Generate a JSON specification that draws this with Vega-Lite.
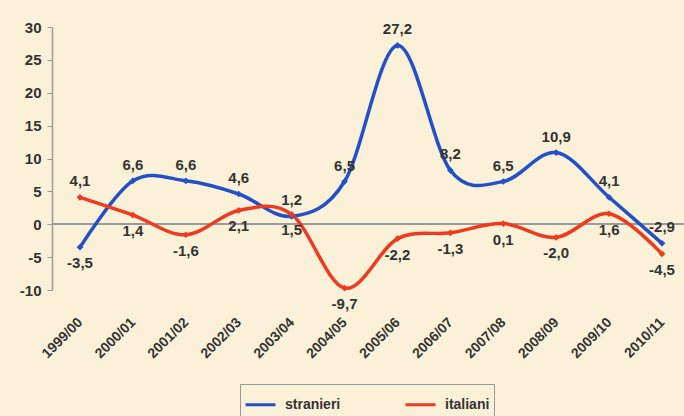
{
  "$schema": "https://vega.github.io/schema/vega-lite/v6.json",
  "width": 632,
  "height": 263,
  "autosize": "none",
  "padding": {"left": 52, "top": 27, "right": 0, "bottom": 126},
  "background": "#fbf1d8",
  "config": {
    "view": {"stroke": null},
    "font": "Liberation Sans",
    "locale": {"number": {"decimal": ",", "thousands": ".", "grouping": [3], "currency": ["", " €"], "minus": "-"}},
    "axis": {"labelFont": "Liberation Sans", "labelFontWeight": "bold", "labelColor": "#333333", "grid": false, "domainColor": "#9a9a9a", "tickColor": "#9a9a9a", "title": null},
    "axisY": {"values": [-10, -5, 0, 5, 10, 15, 20, 25, 30], "labelFontSize": 15, "tickSize": 5, "domainWidth": 1.5, "labelPadding": 6}
  },
  "data": {
    "values": [
      {"anno": "1999/00", "serie": "stranieri", "valore": -3.5},
      {"anno": "2000/01", "serie": "stranieri", "valore": 6.6},
      {"anno": "2001/02", "serie": "stranieri", "valore": 6.6},
      {"anno": "2002/03", "serie": "stranieri", "valore": 4.6},
      {"anno": "2003/04", "serie": "stranieri", "valore": 1.2},
      {"anno": "2004/05", "serie": "stranieri", "valore": 6.5},
      {"anno": "2005/06", "serie": "stranieri", "valore": 27.2},
      {"anno": "2006/07", "serie": "stranieri", "valore": 8.2},
      {"anno": "2007/08", "serie": "stranieri", "valore": 6.5},
      {"anno": "2008/09", "serie": "stranieri", "valore": 10.9},
      {"anno": "2009/10", "serie": "stranieri", "valore": 4.1},
      {"anno": "2010/11", "serie": "stranieri", "valore": -2.9},
      {"anno": "1999/00", "serie": "italiani", "valore": 4.1},
      {"anno": "2000/01", "serie": "italiani", "valore": 1.4},
      {"anno": "2001/02", "serie": "italiani", "valore": -1.6},
      {"anno": "2002/03", "serie": "italiani", "valore": 2.1},
      {"anno": "2003/04", "serie": "italiani", "valore": 1.5},
      {"anno": "2004/05", "serie": "italiani", "valore": -9.7},
      {"anno": "2005/06", "serie": "italiani", "valore": -2.2},
      {"anno": "2006/07", "serie": "italiani", "valore": -1.3},
      {"anno": "2007/08", "serie": "italiani", "valore": 0.1},
      {"anno": "2008/09", "serie": "italiani", "valore": -2.0},
      {"anno": "2009/10", "serie": "italiani", "valore": 1.6},
      {"anno": "2010/11", "serie": "italiani", "valore": -4.5}
    ]
  },
  "layer": [
    {
      "mark": {"type": "rule", "color": "#9a9a9a", "strokeWidth": 1.5},
      "encoding": {"y": {"datum": 0, "type": "quantitative", "scale": {"domain": [-10, 30], "nice": false}}}
    },
    {
      "mark": {"type": "line", "interpolate": "cardinal", "strokeWidth": 3.5},
      "encoding": {
        "x": {"field": "anno", "type": "ordinal", "scale": {"type": "point", "range": [28, 610], "padding": 0},
          "axis": {"orient": "bottom", "domain": false, "ticks": false, "labelAngle": -45, "labelAlign": "right", "labelBaseline": "middle", "labelFontSize": 14, "labelPadding": 30}},
        "y": {"field": "valore", "type": "quantitative", "scale": {"domain": [-10, 30], "nice": false}},
        "color": {"field": "serie", "type": "nominal", "sort": ["stranieri", "italiani"],
          "scale": {"domain": ["stranieri", "italiani"], "range": ["#2350c8", "#ef3a20"]},
          "legend": {"orient": "none", "legendX": 188, "legendY": 357, "direction": "horizontal", "title": null,
            "symbolType": "stroke", "symbolSize": 900, "symbolStrokeWidth": 3, "labelFontSize": 14, "labelFontWeight": "bold", "labelColor": "#333333",
            "columnPadding": 58, "labelOffset": 8, "padding": 4, "strokeColor": "#999999", "fillColor": "#fbf1d8"}}
      }
    },
    {
      "mark": {"type": "point", "shape": "diamond", "filled": true, "size": 45, "opacity": 1},
      "encoding": {
        "x": {"field": "anno", "type": "ordinal"},
        "y": {"field": "valore", "type": "quantitative"},
        "color": {"field": "serie", "type": "nominal"}
      }
    },
    {
      "transform": [{"filter": "(datum.serie == 'stranieri' && datum.anno != '1999/00') || (datum.serie == 'italiani' && datum.anno == '1999/00')"}],
      "mark": {"type": "text", "baseline": "bottom", "dy": -8, "fontSize": 15, "fontWeight": "bold", "color": "#333333"},
      "encoding": {
        "x": {"field": "anno", "type": "ordinal"},
        "y": {"field": "valore", "type": "quantitative"},
        "text": {"field": "valore", "type": "quantitative", "format": ".1f"}
      }
    },
    {
      "transform": [{"filter": "!((datum.serie == 'stranieri' && datum.anno != '1999/00') || (datum.serie == 'italiani' && datum.anno == '1999/00'))"}],
      "mark": {"type": "text", "baseline": "top", "dy": 9, "fontSize": 15, "fontWeight": "bold", "color": "#333333"},
      "encoding": {
        "x": {"field": "anno", "type": "ordinal"},
        "y": {"field": "valore", "type": "quantitative"},
        "text": {"field": "valore", "type": "quantitative", "format": ".1f"}
      }
    }
  ]
}
